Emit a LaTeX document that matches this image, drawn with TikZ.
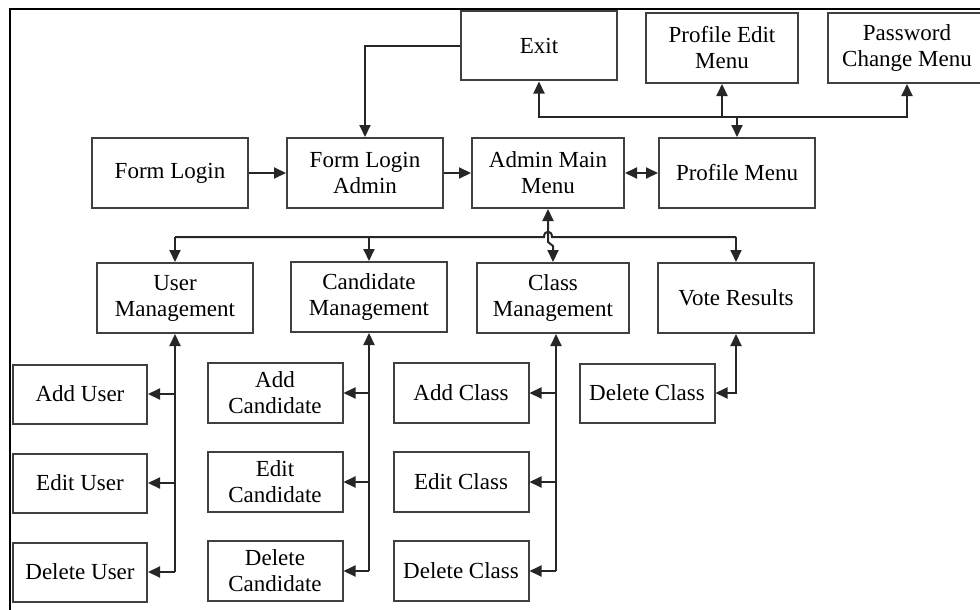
\documentclass[tikz,border=0pt]{standalone}
\usepackage{fontspec}
\setmainfont{Liberation Serif}
\usepackage{tikz}
\usetikzlibrary{arrows.meta, positioning}
\tikzset{
  block/.style={
    rectangle,
    draw=black!75,
    line width=2pt,
    fill=white,
    align=center,
    inner sep=2pt,
    font=\fontsize{23}{26}\selectfont,
    minimum width=156pt,
    minimum height=70pt
  },
  leaf/.style={
    block,
    minimum width=135pt,
    minimum height=59pt
  },
  arrow/.style={
    line width=2pt,
    draw=black!85,
    ->,
    >={Triangle[length=12pt,width=11pt]}
  },
  twoway/.style={arrow, <->},
  wire/.style={line width=2pt, draw=black!85}
}

\begin{document}
\begin{tikzpicture}[x=1pt, y=-1pt, node distance=28pt and 28pt]
  \useasboundingbox (0,0) rectangle (980,610);
  \clip (0,0) rectangle (980,610);

  % Frame
  \draw[line width=2pt] (10,615) -- (10,9) -- (985,9);

  % Top row
  \node[block, minimum height=69pt] (exit) at (539,46) {Exit};
  \node[block, minimum width=152pt] (profedit) at (722,48) {Profile Edit\\Menu};
  \node[block, minimum width=158pt] (password) at (907,48) {Password\\Change Menu};

  % Login row
  \node[block] (formlogin) at (170,173) {Form Login};
  \node[block] (loginadmin) at (365,173) {Form Login\\Admin};
  \node[block, minimum width=152pt] (adminmenu) at (548,173) {Admin Main\\Menu};
  \node[block] (profilemenu) at (737,173) {Profile Menu};

  % Management row
  \node[block] (usermgmt) at (175,298) {User\\Management};
  \node[block] (candmgmt) at (369,297) {Candidate\\Management};
  \node[block, minimum width=152pt] (classmgmt) at (553,298) {Class\\Management};
  \node[block] (voteres) at (736,298) {Vote Results};

  % Sub menus
  \node[leaf, minimum width=134pt] (adduser) at (80,394) {Add User};
  \node[leaf, minimum width=134pt, below=of adduser] (edituser) {Edit User};
  \node[leaf, minimum width=134pt, below=of edituser] (deluser) {Delete User};

  \node[leaf, minimum height=60pt] (addcand) at (275,393) {Add\\Candidate};
  \node[leaf, minimum height=60pt, below=27pt of addcand] (editcand) {Edit\\Candidate};
  \node[leaf, minimum height=60pt, below=27pt of editcand] (delcand) {Delete\\Candidate};

  \node[leaf, minimum height=60pt] (addclass) at (461,393) {Add Class};
  \node[leaf, minimum height=60pt, below=27pt of addclass] (editclass) {Edit Class};
  \node[leaf, minimum height=60pt, below=27pt of editclass] (delclass) {Delete Class};

  \node[leaf] (delvote) at (647,393) {Delete Class};

  % Login flow
  \draw[arrow] (formlogin) -- (loginadmin);
  \draw[arrow] (loginadmin) -- (adminmenu);
  \draw[twoway] (adminmenu) -- (profilemenu);
  \draw[arrow] (exit.west) -| (loginadmin.north);

  % Profile bus
  \coordinate (pbus) at (737,117);
  \draw[arrow] (pbus) -- (profilemenu.north);
  \draw[arrow] (pbus) -| (exit.south);
  \draw[arrow] (pbus) -| (profedit.south);
  \draw[arrow] (pbus) -| (password.south);

  % Management bus
  \coordinate (mbus) at (0,237);
  \draw[wire] (usermgmt.north |- mbus) -- (544,237)
    .. controls (544,230) and (552,230) .. (552,237) -- (voteres.north |- mbus);
  \draw[arrow] (usermgmt.north |- mbus) -- (usermgmt.north);
  \draw[arrow] (candmgmt.north |- mbus) -- (candmgmt.north);
  \draw[arrow] (voteres.north |- mbus) -- (voteres.north);
  \draw[twoway] (adminmenu.south) -- (548,242) -- (553,246) -- (classmgmt.north);

  % User branch
  \draw[arrow] (usermgmt.south |- deluser.east) -- (usermgmt.south);
  \draw[arrow] (usermgmt.south |- adduser.east) -- (adduser.east);
  \draw[arrow] (usermgmt.south |- edituser.east) -- (edituser.east);
  \draw[arrow] (usermgmt.south |- deluser.east) -- (deluser.east);

  % Candidate branch
  \draw[arrow] (candmgmt.south |- delcand.east) -- (candmgmt.south);
  \draw[arrow] (candmgmt.south |- addcand.east) -- (addcand.east);
  \draw[arrow] (candmgmt.south |- editcand.east) -- (editcand.east);
  \draw[arrow] (candmgmt.south |- delcand.east) -- (delcand.east);

  % Class branch
  \coordinate (cline) at ([xshift=3pt]classmgmt.south);
  \draw[arrow] (cline |- delclass.east) -- (cline);
  \draw[arrow] (cline |- addclass.east) -- (addclass.east);
  \draw[arrow] (cline |- editclass.east) -- (editclass.east);
  \draw[arrow] (cline |- delclass.east) -- (delclass.east);

  % Vote results
  \draw[twoway] (delvote.east) -| (voteres.south);
\end{tikzpicture}
\end{document}
